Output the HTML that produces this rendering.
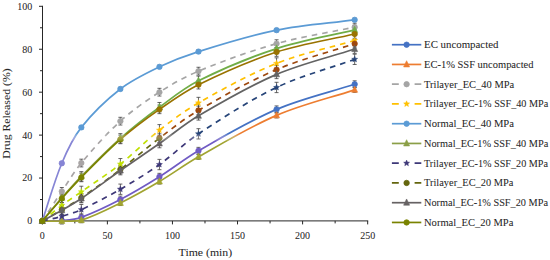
<!DOCTYPE html>
<html><head><meta charset="utf-8"><style>
html,body{margin:0;padding:0;background:#fff;}
body{width:550px;height:260px;overflow:hidden;}
svg{display:block;}

text{font-family:"Liberation Serif", serif;fill:#262626;stroke:#262626;stroke-width:0.05px;}
</style></head><body><div id="wrap">
<svg width="550" height="260" viewBox="0 0 550 260">
<rect width="550" height="260" fill="#fff"/>

<g stroke="#262626" stroke-width="1" fill="none">
<line x1="42.5" y1="5.8" x2="42.5" y2="220.9"/>
<line x1="42.5" y1="220.9" x2="368.2" y2="220.9"/>
<line x1="39.0" y1="221.00" x2="42.5" y2="221.00"/>
<line x1="40.0" y1="199.53" x2="42.5" y2="199.53"/>
<line x1="39.0" y1="178.06" x2="42.5" y2="178.06"/>
<line x1="40.0" y1="156.59" x2="42.5" y2="156.59"/>
<line x1="39.0" y1="135.12" x2="42.5" y2="135.12"/>
<line x1="40.0" y1="113.65" x2="42.5" y2="113.65"/>
<line x1="39.0" y1="92.18" x2="42.5" y2="92.18"/>
<line x1="40.0" y1="70.71" x2="42.5" y2="70.71"/>
<line x1="39.0" y1="49.24" x2="42.5" y2="49.24"/>
<line x1="40.0" y1="27.77" x2="42.5" y2="27.77"/>
<line x1="39.0" y1="6.30" x2="42.5" y2="6.30"/>
<line x1="42.30" y1="220.9" x2="42.30" y2="224.4"/>
<line x1="74.84" y1="220.9" x2="74.84" y2="223.4"/>
<line x1="107.38" y1="220.9" x2="107.38" y2="224.4"/>
<line x1="139.91" y1="220.9" x2="139.91" y2="223.4"/>
<line x1="172.45" y1="220.9" x2="172.45" y2="224.4"/>
<line x1="204.99" y1="220.9" x2="204.99" y2="223.4"/>
<line x1="237.53" y1="220.9" x2="237.53" y2="224.4"/>
<line x1="270.06" y1="220.9" x2="270.06" y2="223.4"/>
<line x1="302.60" y1="220.9" x2="302.60" y2="224.4"/>
<line x1="335.14" y1="220.9" x2="335.14" y2="223.4"/>
<line x1="367.68" y1="220.9" x2="367.68" y2="224.4"/>
</g>
<g font-size="10" text-anchor="end">
<text x="32.2" y="224.40">0</text>
<text x="32.2" y="181.46">20</text>
<text x="32.2" y="138.52">40</text>
<text x="32.2" y="95.58">60</text>
<text x="32.2" y="52.64">80</text>
<text x="32.2" y="9.70">100</text>
</g>
<g font-size="10" text-anchor="middle">
<text x="42.30" y="239.0">0</text>
<text x="107.38" y="239.0">50</text>
<text x="172.45" y="239.0">100</text>
<text x="237.53" y="239.0">150</text>
<text x="302.60" y="239.0">200</text>
<text x="367.68" y="239.0">250</text>
</g>
<text x="178.6" y="256.2" font-size="11.2" textLength="53.6" lengthAdjust="spacingAndGlyphs">Time (min)</text>
<text transform="translate(10.4,158.7) rotate(-90)" font-size="10.8" textLength="90.4" lengthAdjust="spacingAndGlyphs">Drug Released (%)</text>
<defs><linearGradient id="ga" gradientUnits="userSpaceOnUse" x1="0" y1="133.5" x2="0" y2="141.5"><stop offset="0" stop-color="#fff"/><stop offset="1" stop-color="#000"/></linearGradient><linearGradient id="gb" gradientUnits="userSpaceOnUse" x1="0" y1="133.5" x2="0" y2="141.5"><stop offset="0" stop-color="#000"/><stop offset="1" stop-color="#fff"/></linearGradient><mask id="ma" maskUnits="userSpaceOnUse" x="0" y="0" width="550" height="260"><rect width="550" height="260" fill="url(#ga)"/></mask><mask id="mb" maskUnits="userSpaceOnUse" x="0" y="0" width="550" height="260"><rect width="550" height="260" fill="url(#gb)"/></mask></defs>
<g mask="url(#ma)">
<path d="M61.82 217.14V224.01M59.82 217.14H63.82M59.82 224.01H63.82M81.34 213.91V220.79M79.34 213.91H83.34M79.34 220.79H83.34M120.39 196.09V202.97M118.39 196.09H122.39M118.39 202.97H122.39M159.44 173.34V180.21M157.44 173.34H161.44M157.44 180.21H161.44M198.48 147.36V154.23M196.48 147.36H200.48M196.48 154.23H200.48M276.57 105.92V112.79M274.57 105.92H278.57M274.57 112.79H278.57M354.66 80.80V87.67M352.66 80.80H356.66M352.66 87.67H356.66" stroke="#404040" stroke-width="0.8" fill="none"/>
<path d="M81.34 217.56V222.72M79.34 217.56H83.34M79.34 222.72H83.34M120.39 200.39V205.54M118.39 200.39H122.39M118.39 205.54H122.39M159.44 178.92V184.07M157.44 178.92H161.44M157.44 184.07H161.44M198.48 154.23V159.38M196.48 154.23H200.48M196.48 159.38H200.48M276.57 112.79V117.94M274.57 112.79H278.57M274.57 117.94H278.57M354.66 87.24V92.39M352.66 87.24H356.66M352.66 92.39H356.66" stroke="#404040" stroke-width="0.8" fill="none"/>
<path d="M61.82 187.51V195.24M59.82 187.51H63.82M59.82 195.24H63.82M81.34 159.17V166.90M79.34 159.17H83.34M79.34 166.90H83.34M120.39 117.30V125.03M118.39 117.30H122.39M118.39 125.03H122.39M159.44 88.32V96.04M157.44 88.32H161.44M157.44 96.04H161.44M198.48 67.27V75.00M196.48 67.27H200.48M196.48 75.00H200.48M276.57 39.79V47.52M274.57 39.79H278.57M274.57 47.52H278.57M354.66 23.26V30.99M352.66 23.26H356.66M352.66 30.99H356.66" stroke="#404040" stroke-width="0.8" fill="none"/>
<path d="M61.82 199.74V210.91M59.82 199.74H63.82M59.82 210.91H63.82M81.34 186.22V197.38M79.34 186.22H83.34M79.34 197.38H83.34M120.39 158.52V169.69M118.39 158.52H122.39M118.39 169.69H122.39M159.44 124.60V135.76M157.44 124.60H161.44M157.44 135.76H161.44M198.48 97.33V108.50M196.48 97.33H200.48M196.48 108.50H200.48M276.57 57.83V68.99M274.57 57.83H278.57M274.57 68.99H278.57M354.66 34.86V46.02M352.66 34.86H356.66M352.66 46.02H356.66" stroke="#404040" stroke-width="0.8" fill="none"/>
<path d="M61.82 161.53V164.96M59.82 161.53H63.82M59.82 164.96H63.82M81.34 125.67V129.11M79.34 125.67H83.34M79.34 129.11H83.34M120.39 87.24V90.68M118.39 87.24H122.39M118.39 90.68H122.39M159.44 65.13V68.56M157.44 65.13H161.44M157.44 68.56H161.44M198.48 49.88V53.32M196.48 49.88H200.48M196.48 53.32H200.48M276.57 28.41V31.85M274.57 28.41H278.57M274.57 31.85H278.57M354.66 18.11V21.54M352.66 18.11H356.66M352.66 21.54H356.66" stroke="#404040" stroke-width="0.8" fill="none"/>
<path d="M61.82 193.09V202.54M59.82 193.09H63.82M59.82 202.54H63.82M81.34 171.62V181.07M79.34 171.62H83.34M79.34 181.07H83.34M120.39 133.62V143.06M118.39 133.62H122.39M118.39 143.06H122.39M159.44 102.49V111.93M157.44 102.49H161.44M157.44 111.93H161.44M198.48 76.08V85.52M196.48 76.08H200.48M196.48 85.52H200.48M276.57 43.87V53.32M274.57 43.87H278.57M274.57 53.32H278.57M354.66 25.19V34.64M352.66 25.19H356.66M352.66 34.64H356.66" stroke="#404040" stroke-width="0.8" fill="none"/>
<path d="M61.82 211.12V221.43M59.82 211.12H63.82M59.82 221.43H63.82M81.34 204.47V214.77M79.34 204.47H83.34M79.34 214.77H83.34M120.39 184.07V194.38M118.39 184.07H122.39M118.39 194.38H122.39M159.44 159.38V169.69M157.44 159.38H161.44M157.44 169.69H161.44M198.48 128.68V138.98M196.48 128.68H200.48M196.48 138.98H200.48M276.57 82.30V92.61M274.57 82.30H278.57M274.57 92.61H278.57M354.66 54.18V64.48M352.66 54.18H356.66M352.66 64.48H356.66" stroke="#404040" stroke-width="0.8" fill="none"/>
<path d="M61.82 205.54V214.13M59.82 205.54H63.82M59.82 214.13H63.82M81.34 193.52V202.11M79.34 193.52H83.34M79.34 202.11H83.34M120.39 165.18V173.77M118.39 165.18H122.39M118.39 173.77H122.39M159.44 133.83V142.42M157.44 133.83H161.44M157.44 142.42H161.44M198.48 106.14V114.72M196.48 106.14H200.48M196.48 114.72H200.48M276.57 65.34V73.93M274.57 65.34H278.57M274.57 73.93H278.57M354.66 39.36V47.95M352.66 39.36H356.66M352.66 47.95H356.66" stroke="#404040" stroke-width="0.8" fill="none"/>
<path d="M61.82 205.97V214.56M59.82 205.97H63.82M59.82 214.56H63.82M81.34 194.16V202.75M79.34 194.16H83.34M79.34 202.75H83.34M120.39 166.25V174.84M118.39 166.25H122.39M118.39 174.84H122.39M159.44 139.20V147.79M157.44 139.20H161.44M157.44 147.79H161.44M198.48 111.50V120.09M196.48 111.50H200.48M196.48 120.09H200.48M276.57 70.07V78.65M274.57 70.07H278.57M274.57 78.65H278.57M354.66 44.73V53.32M352.66 44.73H356.66M352.66 53.32H356.66" stroke="#404040" stroke-width="0.8" fill="none"/>
<path d="M61.82 194.16V202.75M59.82 194.16H63.82M59.82 202.75H63.82M81.34 173.12V181.71M79.34 173.12H83.34M79.34 181.71H83.34M120.39 135.12V143.71M118.39 135.12H122.39M118.39 143.71H122.39M159.44 105.06V113.65M157.44 105.06H161.44M157.44 113.65H161.44M198.48 80.37V88.96M196.48 80.37H200.48M196.48 88.96H200.48M276.57 47.74V56.33M274.57 47.74H278.57M274.57 56.33H278.57M354.66 29.70V38.29M352.66 29.70H356.66M352.66 38.29H356.66" stroke="#404040" stroke-width="0.8" fill="none"/>
<path d="M42.30 221.00 C48.81 220.86 55.34 221.18 61.82 220.57 C68.39 219.96 75.14 219.58 81.34 217.35 C94.81 212.51 107.70 206.13 120.39 199.53 C133.76 192.58 146.66 184.75 159.44 176.77 C172.70 168.50 184.93 158.59 198.48 150.79 C224.02 136.09 249.46 120.91 276.57 109.36 C301.72 98.64 328.63 92.61 354.66 84.24" stroke="#4472C4" stroke-width="1.7" fill="none"/>
<circle cx="42.30" cy="221.00" r="2.70" fill="#4472C4" stroke="#4472C4" stroke-width="0.8"/>
<circle cx="61.82" cy="220.57" r="2.70" fill="#4472C4" stroke="#4472C4" stroke-width="0.8"/>
<circle cx="81.34" cy="217.35" r="2.70" fill="#4472C4" stroke="#4472C4" stroke-width="0.8"/>
<circle cx="120.39" cy="199.53" r="2.70" fill="#4472C4" stroke="#4472C4" stroke-width="0.8"/>
<circle cx="159.44" cy="176.77" r="2.70" fill="#4472C4" stroke="#4472C4" stroke-width="0.8"/>
<circle cx="198.48" cy="150.79" r="2.70" fill="#4472C4" stroke="#4472C4" stroke-width="0.8"/>
<circle cx="276.57" cy="109.36" r="2.70" fill="#4472C4" stroke="#4472C4" stroke-width="0.8"/>
<circle cx="354.66" cy="84.24" r="2.70" fill="#4472C4" stroke="#4472C4" stroke-width="0.8"/>
<path d="M42.30 221.00 C48.81 221.00 55.32 221.14 61.82 221.00 C68.33 220.86 75.12 222.06 81.34 220.14 C94.93 215.96 107.65 209.27 120.39 202.97 C133.70 196.38 146.65 189.05 159.44 181.50 C172.69 173.66 185.07 164.37 198.48 156.80 C224.14 142.32 249.49 126.98 276.57 115.37 C301.74 104.57 328.63 98.33 354.66 89.82" stroke="#ED7D31" stroke-width="1.7" fill="none"/>
<path d="M42.30 217.27L45.27 223.48L39.33 223.48Z" fill="#ED7D31" stroke="#ED7D31" stroke-width="0.6"/>
<path d="M61.82 217.27L64.79 223.48L58.85 223.48Z" fill="#ED7D31" stroke="#ED7D31" stroke-width="0.6"/>
<path d="M81.34 216.42L84.31 222.63L78.38 222.63Z" fill="#ED7D31" stroke="#ED7D31" stroke-width="0.6"/>
<path d="M120.39 199.24L123.36 205.45L117.42 205.45Z" fill="#ED7D31" stroke="#ED7D31" stroke-width="0.6"/>
<path d="M159.44 177.77L162.41 183.98L156.47 183.98Z" fill="#ED7D31" stroke="#ED7D31" stroke-width="0.6"/>
<path d="M198.48 153.08L201.45 159.29L195.51 159.29Z" fill="#ED7D31" stroke="#ED7D31" stroke-width="0.6"/>
<path d="M276.57 111.64L279.54 117.85L273.60 117.85Z" fill="#ED7D31" stroke="#ED7D31" stroke-width="0.6"/>
<path d="M354.66 86.09L357.63 92.30L351.69 92.30Z" fill="#ED7D31" stroke="#ED7D31" stroke-width="0.6"/>
<path d="M42.30 221.00 C48.81 211.12 55.22 201.18 61.82 191.37 C68.23 181.86 74.00 171.84 81.34 163.03 C93.57 148.38 106.26 133.99 120.39 121.16 C132.39 110.27 145.79 100.92 159.44 92.18 C171.88 84.21 184.82 76.80 198.48 71.14 C223.97 60.58 250.01 51.14 276.57 43.66 C302.18 36.44 328.63 32.64 354.66 27.13" stroke="#A5A5A5" stroke-width="1.7" fill="none" stroke-dasharray="5.6 5"/>
<circle cx="42.30" cy="221.00" r="2.70" fill="#A5A5A5" stroke="#A5A5A5" stroke-width="0.8"/>
<circle cx="61.82" cy="191.37" r="2.70" fill="#A5A5A5" stroke="#A5A5A5" stroke-width="0.8"/>
<circle cx="81.34" cy="163.03" r="2.70" fill="#A5A5A5" stroke="#A5A5A5" stroke-width="0.8"/>
<circle cx="120.39" cy="121.16" r="2.70" fill="#A5A5A5" stroke="#A5A5A5" stroke-width="0.8"/>
<circle cx="159.44" cy="92.18" r="2.70" fill="#A5A5A5" stroke="#A5A5A5" stroke-width="0.8"/>
<circle cx="198.48" cy="71.14" r="2.70" fill="#A5A5A5" stroke="#A5A5A5" stroke-width="0.8"/>
<circle cx="276.57" cy="43.66" r="2.70" fill="#A5A5A5" stroke="#A5A5A5" stroke-width="0.8"/>
<circle cx="354.66" cy="27.13" r="2.70" fill="#A5A5A5" stroke="#A5A5A5" stroke-width="0.8"/>
<path d="M42.30 221.00 C48.81 215.78 55.14 210.32 61.82 205.33 C68.16 200.59 74.87 196.36 81.34 191.80 C94.39 182.62 107.86 173.99 120.39 164.10 C133.92 153.42 145.86 140.82 159.44 130.18 C171.93 120.39 184.69 110.78 198.48 102.92 C223.82 88.47 249.49 74.24 276.57 63.41 C301.76 53.33 328.63 48.09 354.66 40.44" stroke="#FFC000" stroke-width="1.7" fill="none" stroke-dasharray="5.6 5"/>
<path d="M42.30 217.90L43.12 219.87L45.25 220.04L43.63 221.43L44.13 223.51L42.30 222.40L40.47 223.51L40.97 221.43L39.35 220.04L41.48 219.87Z" fill="#FFC000" stroke="#FFC000" stroke-width="0.5"/>
<path d="M61.82 202.22L62.64 204.20L64.78 204.37L63.15 205.76L63.65 207.84L61.82 206.72L60.00 207.84L60.49 205.76L58.87 204.37L61.00 204.20Z" fill="#FFC000" stroke="#FFC000" stroke-width="0.5"/>
<path d="M81.34 188.70L82.17 190.67L84.30 190.84L82.67 192.23L83.17 194.31L81.34 193.20L79.52 194.31L80.02 192.23L78.39 190.84L80.52 190.67Z" fill="#FFC000" stroke="#FFC000" stroke-width="0.5"/>
<path d="M120.39 161.00L121.21 162.97L123.34 163.15L121.72 164.54L122.22 166.62L120.39 165.50L118.56 166.62L119.06 164.54L117.44 163.15L119.57 162.97Z" fill="#FFC000" stroke="#FFC000" stroke-width="0.5"/>
<path d="M159.44 127.08L160.26 129.05L162.39 129.22L160.76 130.61L161.26 132.69L159.44 131.58L157.61 132.69L158.11 130.61L156.48 129.22L158.61 129.05Z" fill="#FFC000" stroke="#FFC000" stroke-width="0.5"/>
<path d="M198.48 99.81L199.30 101.78L201.43 101.96L199.81 103.35L200.31 105.43L198.48 104.31L196.65 105.43L197.15 103.35L195.53 101.96L197.66 101.78Z" fill="#FFC000" stroke="#FFC000" stroke-width="0.5"/>
<path d="M276.57 60.31L277.39 62.28L279.52 62.45L277.90 63.84L278.40 65.92L276.57 64.81L274.74 65.92L275.24 63.84L273.62 62.45L275.75 62.28Z" fill="#FFC000" stroke="#FFC000" stroke-width="0.5"/>
<path d="M354.66 37.33L355.48 39.31L357.61 39.48L355.99 40.87L356.49 42.95L354.66 41.83L352.83 42.95L353.33 40.87L351.71 39.48L353.84 39.31Z" fill="#FFC000" stroke="#FFC000" stroke-width="0.5"/>
<path d="M42.30 221.00 C48.81 201.75 54.00 182.00 61.82 163.25 C67.06 150.69 72.92 138.08 81.34 127.39 C92.65 113.05 105.96 100.15 120.39 88.96 C132.21 79.79 145.94 73.30 159.44 66.85 C172.04 60.82 185.15 55.78 198.48 51.60 C224.24 43.53 250.12 35.51 276.57 30.13 C302.30 24.90 328.63 23.26 354.66 19.83" stroke="#5B9BD5" stroke-width="1.7" fill="none"/>
<circle cx="42.30" cy="221.00" r="2.70" fill="#5B9BD5" stroke="#5B9BD5" stroke-width="0.8"/>
<circle cx="61.82" cy="163.25" r="2.70" fill="#5B9BD5" stroke="#5B9BD5" stroke-width="0.8"/>
<circle cx="81.34" cy="127.39" r="2.70" fill="#5B9BD5" stroke="#5B9BD5" stroke-width="0.8"/>
<circle cx="120.39" cy="88.96" r="2.70" fill="#5B9BD5" stroke="#5B9BD5" stroke-width="0.8"/>
<circle cx="159.44" cy="66.85" r="2.70" fill="#5B9BD5" stroke="#5B9BD5" stroke-width="0.8"/>
<circle cx="198.48" cy="51.60" r="2.70" fill="#5B9BD5" stroke="#5B9BD5" stroke-width="0.8"/>
<circle cx="276.57" cy="30.13" r="2.70" fill="#5B9BD5" stroke="#5B9BD5" stroke-width="0.8"/>
<circle cx="354.66" cy="19.83" r="2.70" fill="#5B9BD5" stroke="#5B9BD5" stroke-width="0.8"/>
<path d="M42.30 221.00 C48.81 213.27 55.17 205.42 61.82 197.81 C68.19 190.53 74.56 183.23 81.34 176.34 C94.09 163.40 106.79 150.38 120.39 138.34 C132.85 127.31 146.03 117.08 159.44 107.21 C172.08 97.89 184.43 87.83 198.48 80.80 C223.66 68.20 249.80 57.32 276.57 48.60 C302.02 40.30 328.63 36.14 354.66 29.92" stroke="#70AD47" stroke-width="1.7" fill="none"/>
<path d="M42.30 217.27L45.27 223.48L39.33 223.48Z" fill="#70AD47" stroke="#70AD47" stroke-width="0.6"/>
<path d="M61.82 194.09L64.79 200.30L58.85 200.30Z" fill="#70AD47" stroke="#70AD47" stroke-width="0.6"/>
<path d="M81.34 172.62L84.31 178.83L78.38 178.83Z" fill="#70AD47" stroke="#70AD47" stroke-width="0.6"/>
<path d="M120.39 134.61L123.36 140.82L117.42 140.82Z" fill="#70AD47" stroke="#70AD47" stroke-width="0.6"/>
<path d="M159.44 103.48L162.41 109.69L156.47 109.69Z" fill="#70AD47" stroke="#70AD47" stroke-width="0.6"/>
<path d="M198.48 77.07L201.45 83.28L195.51 83.28Z" fill="#70AD47" stroke="#70AD47" stroke-width="0.6"/>
<path d="M276.57 44.87L279.54 51.08L273.60 51.08Z" fill="#70AD47" stroke="#70AD47" stroke-width="0.6"/>
<path d="M354.66 26.19L357.63 32.40L351.69 32.40Z" fill="#70AD47" stroke="#70AD47" stroke-width="0.6"/>
<path d="M42.30 221.00 C48.81 219.43 55.39 218.15 61.82 216.28 C68.42 214.35 75.10 212.50 81.34 209.62 C94.68 203.46 107.67 196.57 120.39 189.22 C133.73 181.52 146.88 173.44 159.44 164.53 C172.94 154.95 184.65 142.93 198.48 133.83 C223.77 117.19 249.25 100.49 276.57 87.46 C301.54 75.54 328.63 68.71 354.66 59.33" stroke="#264478" stroke-width="1.7" fill="none" stroke-dasharray="5.6 5"/>
<path d="M42.30 217.90L43.12 219.87L45.25 220.04L43.63 221.43L44.13 223.51L42.30 222.40L40.47 223.51L40.97 221.43L39.35 220.04L41.48 219.87Z" fill="#264478" stroke="#264478" stroke-width="0.5"/>
<path d="M61.82 213.17L62.64 215.15L64.78 215.32L63.15 216.71L63.65 218.79L61.82 217.67L60.00 218.79L60.49 216.71L58.87 215.32L61.00 215.15Z" fill="#264478" stroke="#264478" stroke-width="0.5"/>
<path d="M81.34 206.52L82.17 208.49L84.30 208.66L82.67 210.05L83.17 212.13L81.34 211.02L79.52 212.13L80.02 210.05L78.39 208.66L80.52 208.49Z" fill="#264478" stroke="#264478" stroke-width="0.5"/>
<path d="M120.39 186.12L121.21 188.09L123.34 188.26L121.72 189.66L122.22 191.74L120.39 190.62L118.56 191.74L119.06 189.66L117.44 188.26L119.57 188.09Z" fill="#264478" stroke="#264478" stroke-width="0.5"/>
<path d="M159.44 161.43L160.26 163.40L162.39 163.57L160.76 164.97L161.26 167.05L159.44 165.93L157.61 167.05L158.11 164.97L156.48 163.57L158.61 163.40Z" fill="#264478" stroke="#264478" stroke-width="0.5"/>
<path d="M198.48 130.73L199.30 132.70L201.43 132.87L199.81 134.26L200.31 136.34L198.48 135.23L196.65 136.34L197.15 134.26L195.53 132.87L197.66 132.70Z" fill="#264478" stroke="#264478" stroke-width="0.5"/>
<path d="M276.57 84.35L277.39 86.33L279.52 86.50L277.90 87.89L278.40 89.97L276.57 88.85L274.74 89.97L275.24 87.89L273.62 86.50L275.75 86.33Z" fill="#264478" stroke="#264478" stroke-width="0.5"/>
<path d="M354.66 56.23L355.48 58.20L357.61 58.37L355.99 59.76L356.49 61.84L354.66 60.73L352.83 61.84L353.33 59.76L351.71 58.37L353.84 58.20Z" fill="#264478" stroke="#264478" stroke-width="0.5"/>
<path d="M42.30 221.00 C48.81 217.28 55.38 213.66 61.82 209.84 C68.39 205.93 75.05 202.15 81.34 197.81 C94.59 188.69 107.61 179.24 120.39 169.47 C133.65 159.34 146.12 148.19 159.44 138.13 C172.16 128.50 184.71 118.48 198.48 110.43 C223.83 95.61 249.57 81.18 276.57 69.64 C301.79 58.85 328.63 52.32 354.66 43.66" stroke="#9E480E" stroke-width="1.7" fill="none" stroke-dasharray="5.6 5"/>
<circle cx="42.30" cy="221.00" r="2.70" fill="#9E480E" stroke="#9E480E" stroke-width="0.8"/>
<circle cx="61.82" cy="209.84" r="2.70" fill="#9E480E" stroke="#9E480E" stroke-width="0.8"/>
<circle cx="81.34" cy="197.81" r="2.70" fill="#9E480E" stroke="#9E480E" stroke-width="0.8"/>
<circle cx="120.39" cy="169.47" r="2.70" fill="#9E480E" stroke="#9E480E" stroke-width="0.8"/>
<circle cx="159.44" cy="138.13" r="2.70" fill="#9E480E" stroke="#9E480E" stroke-width="0.8"/>
<circle cx="198.48" cy="110.43" r="2.70" fill="#9E480E" stroke="#9E480E" stroke-width="0.8"/>
<circle cx="276.57" cy="69.64" r="2.70" fill="#9E480E" stroke="#9E480E" stroke-width="0.8"/>
<circle cx="354.66" cy="43.66" r="2.70" fill="#9E480E" stroke="#9E480E" stroke-width="0.8"/>
<path d="M42.30 221.00 C48.81 217.42 55.39 213.98 61.82 210.26 C68.41 206.46 75.05 202.73 81.34 198.46 C94.59 189.48 107.31 179.75 120.39 170.55 C133.34 161.43 146.47 152.58 159.44 143.49 C172.50 134.33 184.74 123.91 198.48 115.80 C223.86 100.82 249.47 85.94 276.57 74.36 C301.73 63.60 328.63 57.47 354.66 49.03" stroke="#636363" stroke-width="1.7" fill="none"/>
<path d="M42.30 217.27L45.27 223.48L39.33 223.48Z" fill="#636363" stroke="#636363" stroke-width="0.6"/>
<path d="M61.82 206.54L64.79 212.75L58.85 212.75Z" fill="#636363" stroke="#636363" stroke-width="0.6"/>
<path d="M81.34 194.73L84.31 200.94L78.38 200.94Z" fill="#636363" stroke="#636363" stroke-width="0.6"/>
<path d="M120.39 166.82L123.36 173.03L117.42 173.03Z" fill="#636363" stroke="#636363" stroke-width="0.6"/>
<path d="M159.44 139.77L162.41 145.98L156.47 145.98Z" fill="#636363" stroke="#636363" stroke-width="0.6"/>
<path d="M198.48 112.07L201.45 118.28L195.51 118.28Z" fill="#636363" stroke="#636363" stroke-width="0.6"/>
<path d="M276.57 70.63L279.54 76.84L273.60 76.84Z" fill="#636363" stroke="#636363" stroke-width="0.6"/>
<path d="M354.66 45.30L357.63 51.51L351.69 51.51Z" fill="#636363" stroke="#636363" stroke-width="0.6"/>
<path d="M42.30 221.00 C48.81 213.49 55.19 205.86 61.82 198.46 C68.21 191.33 74.61 184.21 81.34 177.42 C94.14 164.52 106.70 151.35 120.39 139.41 C132.77 128.62 145.99 118.78 159.44 109.36 C172.04 100.52 184.65 91.43 198.48 84.67 C223.82 72.26 249.74 60.74 276.57 52.03 C301.98 43.79 328.63 40.01 354.66 34.00" stroke="#997300" stroke-width="1.7" fill="none"/>
<circle cx="42.30" cy="221.00" r="2.70" fill="#997300" stroke="#997300" stroke-width="0.8"/>
<circle cx="61.82" cy="198.46" r="2.70" fill="#997300" stroke="#997300" stroke-width="0.8"/>
<circle cx="81.34" cy="177.42" r="2.70" fill="#997300" stroke="#997300" stroke-width="0.8"/>
<circle cx="120.39" cy="139.41" r="2.70" fill="#997300" stroke="#997300" stroke-width="0.8"/>
<circle cx="159.44" cy="109.36" r="2.70" fill="#997300" stroke="#997300" stroke-width="0.8"/>
<circle cx="198.48" cy="84.67" r="2.70" fill="#997300" stroke="#997300" stroke-width="0.8"/>
<circle cx="276.57" cy="52.03" r="2.70" fill="#997300" stroke="#997300" stroke-width="0.8"/>
<circle cx="354.66" cy="34.00" r="2.70" fill="#997300" stroke="#997300" stroke-width="0.8"/>
</g><g mask="url(#mb)">
<path d="M61.82 217.14V224.01M59.82 217.14H63.82M59.82 224.01H63.82M81.34 213.91V220.79M79.34 213.91H83.34M79.34 220.79H83.34M120.39 196.09V202.97M118.39 196.09H122.39M118.39 202.97H122.39M159.44 173.34V180.21M157.44 173.34H161.44M157.44 180.21H161.44M198.48 147.36V154.23M196.48 147.36H200.48M196.48 154.23H200.48M276.57 105.92V112.79M274.57 105.92H278.57M274.57 112.79H278.57M354.66 80.80V87.67M352.66 80.80H356.66M352.66 87.67H356.66" stroke="#433F40" stroke-width="0.8" fill="none"/>
<path d="M81.34 217.56V222.72M79.34 217.56H83.34M79.34 222.72H83.34M120.39 200.39V205.54M118.39 200.39H122.39M118.39 205.54H122.39M159.44 178.92V184.07M157.44 178.92H161.44M157.44 184.07H161.44M198.48 154.23V159.38M196.48 154.23H200.48M196.48 159.38H200.48M276.57 112.79V117.94M274.57 112.79H278.57M274.57 117.94H278.57M354.66 87.24V92.39M352.66 87.24H356.66M352.66 92.39H356.66" stroke="#433F40" stroke-width="0.8" fill="none"/>
<path d="M61.82 187.51V195.24M59.82 187.51H63.82M59.82 195.24H63.82M81.34 159.17V166.90M79.34 159.17H83.34M79.34 166.90H83.34M120.39 117.30V125.03M118.39 117.30H122.39M118.39 125.03H122.39M159.44 88.32V96.04M157.44 88.32H161.44M157.44 96.04H161.44M198.48 67.27V75.00M196.48 67.27H200.48M196.48 75.00H200.48M276.57 39.79V47.52M274.57 39.79H278.57M274.57 47.52H278.57M354.66 23.26V30.99M352.66 23.26H356.66M352.66 30.99H356.66" stroke="#433F40" stroke-width="0.8" fill="none"/>
<path d="M61.82 199.74V210.91M59.82 199.74H63.82M59.82 210.91H63.82M81.34 186.22V197.38M79.34 186.22H83.34M79.34 197.38H83.34M120.39 158.52V169.69M118.39 158.52H122.39M118.39 169.69H122.39M159.44 124.60V135.76M157.44 124.60H161.44M157.44 135.76H161.44M198.48 97.33V108.50M196.48 97.33H200.48M196.48 108.50H200.48M276.57 57.83V68.99M274.57 57.83H278.57M274.57 68.99H278.57M354.66 34.86V46.02M352.66 34.86H356.66M352.66 46.02H356.66" stroke="#433F40" stroke-width="0.8" fill="none"/>
<path d="M61.82 161.53V164.96M59.82 161.53H63.82M59.82 164.96H63.82M81.34 125.67V129.11M79.34 125.67H83.34M79.34 129.11H83.34M120.39 87.24V90.68M118.39 87.24H122.39M118.39 90.68H122.39M159.44 65.13V68.56M157.44 65.13H161.44M157.44 68.56H161.44M198.48 49.88V53.32M196.48 49.88H200.48M196.48 53.32H200.48M276.57 28.41V31.85M274.57 28.41H278.57M274.57 31.85H278.57M354.66 18.11V21.54M352.66 18.11H356.66M352.66 21.54H356.66" stroke="#433F40" stroke-width="0.8" fill="none"/>
<path d="M61.82 193.09V202.54M59.82 193.09H63.82M59.82 202.54H63.82M81.34 171.62V181.07M79.34 171.62H83.34M79.34 181.07H83.34M120.39 133.62V143.06M118.39 133.62H122.39M118.39 143.06H122.39M159.44 102.49V111.93M157.44 102.49H161.44M157.44 111.93H161.44M198.48 76.08V85.52M196.48 76.08H200.48M196.48 85.52H200.48M276.57 43.87V53.32M274.57 43.87H278.57M274.57 53.32H278.57M354.66 25.19V34.64M352.66 25.19H356.66M352.66 34.64H356.66" stroke="#433F40" stroke-width="0.8" fill="none"/>
<path d="M61.82 211.12V221.43M59.82 211.12H63.82M59.82 221.43H63.82M81.34 204.47V214.77M79.34 204.47H83.34M79.34 214.77H83.34M120.39 184.07V194.38M118.39 184.07H122.39M118.39 194.38H122.39M159.44 159.38V169.69M157.44 159.38H161.44M157.44 169.69H161.44M198.48 128.68V138.98M196.48 128.68H200.48M196.48 138.98H200.48M276.57 82.30V92.61M274.57 82.30H278.57M274.57 92.61H278.57M354.66 54.18V64.48M352.66 54.18H356.66M352.66 64.48H356.66" stroke="#433F40" stroke-width="0.8" fill="none"/>
<path d="M61.82 205.54V214.13M59.82 205.54H63.82M59.82 214.13H63.82M81.34 193.52V202.11M79.34 193.52H83.34M79.34 202.11H83.34M120.39 165.18V173.77M118.39 165.18H122.39M118.39 173.77H122.39M159.44 133.83V142.42M157.44 133.83H161.44M157.44 142.42H161.44M198.48 106.14V114.72M196.48 106.14H200.48M196.48 114.72H200.48M276.57 65.34V73.93M274.57 65.34H278.57M274.57 73.93H278.57M354.66 39.36V47.95M352.66 39.36H356.66M352.66 47.95H356.66" stroke="#433F40" stroke-width="0.8" fill="none"/>
<path d="M61.82 205.97V214.56M59.82 205.97H63.82M59.82 214.56H63.82M81.34 194.16V202.75M79.34 194.16H83.34M79.34 202.75H83.34M120.39 166.25V174.84M118.39 166.25H122.39M118.39 174.84H122.39M159.44 139.20V147.79M157.44 139.20H161.44M157.44 147.79H161.44M198.48 111.50V120.09M196.48 111.50H200.48M196.48 120.09H200.48M276.57 70.07V78.65M274.57 70.07H278.57M274.57 78.65H278.57M354.66 44.73V53.32M352.66 44.73H356.66M352.66 53.32H356.66" stroke="#433F40" stroke-width="0.8" fill="none"/>
<path d="M61.82 194.16V202.75M59.82 194.16H63.82M59.82 202.75H63.82M81.34 173.12V181.71M79.34 173.12H83.34M79.34 181.71H83.34M120.39 135.12V143.71M118.39 135.12H122.39M118.39 143.71H122.39M159.44 105.06V113.65M157.44 105.06H161.44M157.44 113.65H161.44M198.48 80.37V88.96M196.48 80.37H200.48M196.48 88.96H200.48M276.57 47.74V56.33M274.57 47.74H278.57M274.57 56.33H278.57M354.66 29.70V38.29M352.66 29.70H356.66M352.66 38.29H356.66" stroke="#433F40" stroke-width="0.8" fill="none"/>
<path d="M42.30 221.00 C48.81 220.86 55.34 221.18 61.82 220.57 C68.39 219.96 75.14 219.58 81.34 217.35 C94.81 212.51 107.70 206.13 120.39 199.53 C133.76 192.58 146.66 184.75 159.44 176.77 C172.70 168.50 184.93 158.59 198.48 150.79 C224.02 136.09 249.46 120.91 276.57 109.36 C301.72 98.64 328.63 92.61 354.66 84.24" stroke="#705BC4" stroke-width="1.7" fill="none"/>
<circle cx="42.30" cy="221.00" r="2.70" fill="#705BC4" stroke="#705BC4" stroke-width="0.8"/>
<circle cx="61.82" cy="220.57" r="2.70" fill="#705BC4" stroke="#705BC4" stroke-width="0.8"/>
<circle cx="81.34" cy="217.35" r="2.70" fill="#705BC4" stroke="#705BC4" stroke-width="0.8"/>
<circle cx="120.39" cy="199.53" r="2.70" fill="#705BC4" stroke="#705BC4" stroke-width="0.8"/>
<circle cx="159.44" cy="176.77" r="2.70" fill="#705BC4" stroke="#705BC4" stroke-width="0.8"/>
<circle cx="198.48" cy="150.79" r="2.70" fill="#705BC4" stroke="#705BC4" stroke-width="0.8"/>
<circle cx="276.57" cy="109.36" r="2.70" fill="#705BC4" stroke="#705BC4" stroke-width="0.8"/>
<circle cx="354.66" cy="84.24" r="2.70" fill="#705BC4" stroke="#705BC4" stroke-width="0.8"/>
<path d="M42.30 221.00 C48.81 221.00 55.32 221.14 61.82 221.00 C68.33 220.86 75.12 222.06 81.34 220.14 C94.93 215.96 107.65 209.27 120.39 202.97 C133.70 196.38 146.65 189.05 159.44 181.50 C172.69 173.66 185.07 164.37 198.48 156.80 C224.14 142.32 249.49 126.98 276.57 115.37 C301.74 104.57 328.63 98.33 354.66 89.82" stroke="#A1A431" stroke-width="1.7" fill="none"/>
<path d="M42.30 217.27L45.27 223.48L39.33 223.48Z" fill="#A1A431" stroke="#A1A431" stroke-width="0.6"/>
<path d="M61.82 217.27L64.79 223.48L58.85 223.48Z" fill="#A1A431" stroke="#A1A431" stroke-width="0.6"/>
<path d="M81.34 216.42L84.31 222.63L78.38 222.63Z" fill="#A1A431" stroke="#A1A431" stroke-width="0.6"/>
<path d="M120.39 199.24L123.36 205.45L117.42 205.45Z" fill="#A1A431" stroke="#A1A431" stroke-width="0.6"/>
<path d="M159.44 177.77L162.41 183.98L156.47 183.98Z" fill="#A1A431" stroke="#A1A431" stroke-width="0.6"/>
<path d="M198.48 153.08L201.45 159.29L195.51 159.29Z" fill="#A1A431" stroke="#A1A431" stroke-width="0.6"/>
<path d="M276.57 111.64L279.54 117.85L273.60 117.85Z" fill="#A1A431" stroke="#A1A431" stroke-width="0.6"/>
<path d="M354.66 86.09L357.63 92.30L351.69 92.30Z" fill="#A1A431" stroke="#A1A431" stroke-width="0.6"/>
<path d="M42.30 221.00 C48.81 211.12 55.22 201.18 61.82 191.37 C68.23 181.86 74.00 171.84 81.34 163.03 C93.57 148.38 106.26 133.99 120.39 121.16 C132.39 110.27 145.79 100.92 159.44 92.18 C171.88 84.21 184.82 76.80 198.48 71.14 C223.97 60.58 250.01 51.14 276.57 43.66 C302.18 36.44 328.63 32.64 354.66 27.13" stroke="#A8A4A5" stroke-width="1.7" fill="none" stroke-dasharray="5.6 5"/>
<circle cx="42.30" cy="221.00" r="2.70" fill="#A8A4A5" stroke="#A8A4A5" stroke-width="0.8"/>
<circle cx="61.82" cy="191.37" r="2.70" fill="#A8A4A5" stroke="#A8A4A5" stroke-width="0.8"/>
<circle cx="81.34" cy="163.03" r="2.70" fill="#A8A4A5" stroke="#A8A4A5" stroke-width="0.8"/>
<circle cx="120.39" cy="121.16" r="2.70" fill="#A8A4A5" stroke="#A8A4A5" stroke-width="0.8"/>
<circle cx="159.44" cy="92.18" r="2.70" fill="#A8A4A5" stroke="#A8A4A5" stroke-width="0.8"/>
<circle cx="198.48" cy="71.14" r="2.70" fill="#A8A4A5" stroke="#A8A4A5" stroke-width="0.8"/>
<circle cx="276.57" cy="43.66" r="2.70" fill="#A8A4A5" stroke="#A8A4A5" stroke-width="0.8"/>
<circle cx="354.66" cy="27.13" r="2.70" fill="#A8A4A5" stroke="#A8A4A5" stroke-width="0.8"/>
<path d="M42.30 221.00 C48.81 215.78 55.14 210.32 61.82 205.33 C68.16 200.59 74.87 196.36 81.34 191.80 C94.39 182.62 107.86 173.99 120.39 164.10 C133.92 153.42 145.86 140.82 159.44 130.18 C171.93 120.39 184.69 110.78 198.48 102.92 C223.82 88.47 249.49 74.24 276.57 63.41 C301.76 53.33 328.63 48.09 354.66 40.44" stroke="#C0E000" stroke-width="1.7" fill="none" stroke-dasharray="5.6 5"/>
<path d="M42.30 217.90L43.12 219.87L45.25 220.04L43.63 221.43L44.13 223.51L42.30 222.40L40.47 223.51L40.97 221.43L39.35 220.04L41.48 219.87Z" fill="#C0E000" stroke="#C0E000" stroke-width="0.5"/>
<path d="M61.82 202.22L62.64 204.20L64.78 204.37L63.15 205.76L63.65 207.84L61.82 206.72L60.00 207.84L60.49 205.76L58.87 204.37L61.00 204.20Z" fill="#C0E000" stroke="#C0E000" stroke-width="0.5"/>
<path d="M81.34 188.70L82.17 190.67L84.30 190.84L82.67 192.23L83.17 194.31L81.34 193.20L79.52 194.31L80.02 192.23L78.39 190.84L80.52 190.67Z" fill="#C0E000" stroke="#C0E000" stroke-width="0.5"/>
<path d="M120.39 161.00L121.21 162.97L123.34 163.15L121.72 164.54L122.22 166.62L120.39 165.50L118.56 166.62L119.06 164.54L117.44 163.15L119.57 162.97Z" fill="#C0E000" stroke="#C0E000" stroke-width="0.5"/>
<path d="M159.44 127.08L160.26 129.05L162.39 129.22L160.76 130.61L161.26 132.69L159.44 131.58L157.61 132.69L158.11 130.61L156.48 129.22L158.61 129.05Z" fill="#C0E000" stroke="#C0E000" stroke-width="0.5"/>
<path d="M198.48 99.81L199.30 101.78L201.43 101.96L199.81 103.35L200.31 105.43L198.48 104.31L196.65 105.43L197.15 103.35L195.53 101.96L197.66 101.78Z" fill="#C0E000" stroke="#C0E000" stroke-width="0.5"/>
<path d="M276.57 60.31L277.39 62.28L279.52 62.45L277.90 63.84L278.40 65.92L276.57 64.81L274.74 65.92L275.24 63.84L273.62 62.45L275.75 62.28Z" fill="#C0E000" stroke="#C0E000" stroke-width="0.5"/>
<path d="M354.66 37.33L355.48 39.31L357.61 39.48L355.99 40.87L356.49 42.95L354.66 41.83L352.83 42.95L353.33 40.87L351.71 39.48L353.84 39.31Z" fill="#C0E000" stroke="#C0E000" stroke-width="0.5"/>
<path d="M42.30 221.00 C48.81 201.75 54.00 182.00 61.82 163.25 C67.06 150.69 72.92 138.08 81.34 127.39 C92.65 113.05 105.96 100.15 120.39 88.96 C132.21 79.79 145.94 73.30 159.44 66.85 C172.04 60.82 185.15 55.78 198.48 51.60 C224.24 43.53 250.12 35.51 276.57 30.13 C302.30 24.90 328.63 23.26 354.66 19.83" stroke="#8685D5" stroke-width="1.7" fill="none"/>
<circle cx="42.30" cy="221.00" r="2.70" fill="#8685D5" stroke="#8685D5" stroke-width="0.8"/>
<circle cx="61.82" cy="163.25" r="2.70" fill="#8685D5" stroke="#8685D5" stroke-width="0.8"/>
<circle cx="81.34" cy="127.39" r="2.70" fill="#8685D5" stroke="#8685D5" stroke-width="0.8"/>
<circle cx="120.39" cy="88.96" r="2.70" fill="#8685D5" stroke="#8685D5" stroke-width="0.8"/>
<circle cx="159.44" cy="66.85" r="2.70" fill="#8685D5" stroke="#8685D5" stroke-width="0.8"/>
<circle cx="198.48" cy="51.60" r="2.70" fill="#8685D5" stroke="#8685D5" stroke-width="0.8"/>
<circle cx="276.57" cy="30.13" r="2.70" fill="#8685D5" stroke="#8685D5" stroke-width="0.8"/>
<circle cx="354.66" cy="19.83" r="2.70" fill="#8685D5" stroke="#8685D5" stroke-width="0.8"/>
<path d="M42.30 221.00 C48.81 213.27 55.17 205.42 61.82 197.81 C68.19 190.53 74.56 183.23 81.34 176.34 C94.09 163.40 106.79 150.38 120.39 138.34 C132.85 127.31 146.03 117.08 159.44 107.21 C172.08 97.89 184.43 87.83 198.48 80.80 C223.66 68.20 249.80 57.32 276.57 48.60 C302.02 40.30 328.63 36.14 354.66 29.92" stroke="#8B9F47" stroke-width="1.7" fill="none"/>
<path d="M42.30 217.27L45.27 223.48L39.33 223.48Z" fill="#8B9F47" stroke="#8B9F47" stroke-width="0.6"/>
<path d="M61.82 194.09L64.79 200.30L58.85 200.30Z" fill="#8B9F47" stroke="#8B9F47" stroke-width="0.6"/>
<path d="M81.34 172.62L84.31 178.83L78.38 178.83Z" fill="#8B9F47" stroke="#8B9F47" stroke-width="0.6"/>
<path d="M120.39 134.61L123.36 140.82L117.42 140.82Z" fill="#8B9F47" stroke="#8B9F47" stroke-width="0.6"/>
<path d="M159.44 103.48L162.41 109.69L156.47 109.69Z" fill="#8B9F47" stroke="#8B9F47" stroke-width="0.6"/>
<path d="M198.48 77.07L201.45 83.28L195.51 83.28Z" fill="#8B9F47" stroke="#8B9F47" stroke-width="0.6"/>
<path d="M276.57 44.87L279.54 51.08L273.60 51.08Z" fill="#8B9F47" stroke="#8B9F47" stroke-width="0.6"/>
<path d="M354.66 26.19L357.63 32.40L351.69 32.40Z" fill="#8B9F47" stroke="#8B9F47" stroke-width="0.6"/>
<path d="M42.30 221.00 C48.81 219.43 55.39 218.15 61.82 216.28 C68.42 214.35 75.10 212.50 81.34 209.62 C94.68 203.46 107.67 196.57 120.39 189.22 C133.73 181.52 146.88 173.44 159.44 164.53 C172.94 154.95 184.65 142.93 198.48 133.83 C223.77 117.19 249.25 100.49 276.57 87.46 C301.54 75.54 328.63 68.71 354.66 59.33" stroke="#3E3878" stroke-width="1.7" fill="none" stroke-dasharray="5.6 5"/>
<path d="M42.30 217.90L43.12 219.87L45.25 220.04L43.63 221.43L44.13 223.51L42.30 222.40L40.47 223.51L40.97 221.43L39.35 220.04L41.48 219.87Z" fill="#3E3878" stroke="#3E3878" stroke-width="0.5"/>
<path d="M61.82 213.17L62.64 215.15L64.78 215.32L63.15 216.71L63.65 218.79L61.82 217.67L60.00 218.79L60.49 216.71L58.87 215.32L61.00 215.15Z" fill="#3E3878" stroke="#3E3878" stroke-width="0.5"/>
<path d="M81.34 206.52L82.17 208.49L84.30 208.66L82.67 210.05L83.17 212.13L81.34 211.02L79.52 212.13L80.02 210.05L78.39 208.66L80.52 208.49Z" fill="#3E3878" stroke="#3E3878" stroke-width="0.5"/>
<path d="M120.39 186.12L121.21 188.09L123.34 188.26L121.72 189.66L122.22 191.74L120.39 190.62L118.56 191.74L119.06 189.66L117.44 188.26L119.57 188.09Z" fill="#3E3878" stroke="#3E3878" stroke-width="0.5"/>
<path d="M159.44 161.43L160.26 163.40L162.39 163.57L160.76 164.97L161.26 167.05L159.44 165.93L157.61 167.05L158.11 164.97L156.48 163.57L158.61 163.40Z" fill="#3E3878" stroke="#3E3878" stroke-width="0.5"/>
<path d="M198.48 130.73L199.30 132.70L201.43 132.87L199.81 134.26L200.31 136.34L198.48 135.23L196.65 136.34L197.15 134.26L195.53 132.87L197.66 132.70Z" fill="#3E3878" stroke="#3E3878" stroke-width="0.5"/>
<path d="M276.57 84.35L277.39 86.33L279.52 86.50L277.90 87.89L278.40 89.97L276.57 88.85L274.74 89.97L275.24 87.89L273.62 86.50L275.75 86.33Z" fill="#3E3878" stroke="#3E3878" stroke-width="0.5"/>
<path d="M354.66 56.23L355.48 58.20L357.61 58.37L355.99 59.76L356.49 61.84L354.66 60.73L352.83 61.84L353.33 59.76L351.71 58.37L353.84 58.20Z" fill="#3E3878" stroke="#3E3878" stroke-width="0.5"/>
<path d="M42.30 221.00 C48.81 217.28 55.38 213.66 61.82 209.84 C68.39 205.93 75.05 202.15 81.34 197.81 C94.59 188.69 107.61 179.24 120.39 169.47 C133.65 159.34 146.12 148.19 159.44 138.13 C172.16 128.50 184.71 118.48 198.48 110.43 C223.83 95.61 249.57 81.18 276.57 69.64 C301.79 58.85 328.63 52.32 354.66 43.66" stroke="#64660E" stroke-width="1.7" fill="none" stroke-dasharray="5.6 5"/>
<circle cx="42.30" cy="221.00" r="2.70" fill="#64660E" stroke="#64660E" stroke-width="0.8"/>
<circle cx="61.82" cy="209.84" r="2.70" fill="#64660E" stroke="#64660E" stroke-width="0.8"/>
<circle cx="81.34" cy="197.81" r="2.70" fill="#64660E" stroke="#64660E" stroke-width="0.8"/>
<circle cx="120.39" cy="169.47" r="2.70" fill="#64660E" stroke="#64660E" stroke-width="0.8"/>
<circle cx="159.44" cy="138.13" r="2.70" fill="#64660E" stroke="#64660E" stroke-width="0.8"/>
<circle cx="198.48" cy="110.43" r="2.70" fill="#64660E" stroke="#64660E" stroke-width="0.8"/>
<circle cx="276.57" cy="69.64" r="2.70" fill="#64660E" stroke="#64660E" stroke-width="0.8"/>
<circle cx="354.66" cy="43.66" r="2.70" fill="#64660E" stroke="#64660E" stroke-width="0.8"/>
<path d="M42.30 221.00 C48.81 217.42 55.39 213.98 61.82 210.26 C68.41 206.46 75.05 202.73 81.34 198.46 C94.59 189.48 107.31 179.75 120.39 170.55 C133.34 161.43 146.47 152.58 159.44 143.49 C172.50 134.33 184.74 123.91 198.48 115.80 C223.86 100.82 249.47 85.94 276.57 74.36 C301.73 63.60 328.63 57.47 354.66 49.03" stroke="#666263" stroke-width="1.7" fill="none"/>
<path d="M42.30 217.27L45.27 223.48L39.33 223.48Z" fill="#666263" stroke="#666263" stroke-width="0.6"/>
<path d="M61.82 206.54L64.79 212.75L58.85 212.75Z" fill="#666263" stroke="#666263" stroke-width="0.6"/>
<path d="M81.34 194.73L84.31 200.94L78.38 200.94Z" fill="#666263" stroke="#666263" stroke-width="0.6"/>
<path d="M120.39 166.82L123.36 173.03L117.42 173.03Z" fill="#666263" stroke="#666263" stroke-width="0.6"/>
<path d="M159.44 139.77L162.41 145.98L156.47 145.98Z" fill="#666263" stroke="#666263" stroke-width="0.6"/>
<path d="M198.48 112.07L201.45 118.28L195.51 118.28Z" fill="#666263" stroke="#666263" stroke-width="0.6"/>
<path d="M276.57 70.63L279.54 76.84L273.60 76.84Z" fill="#666263" stroke="#666263" stroke-width="0.6"/>
<path d="M354.66 45.30L357.63 51.51L351.69 51.51Z" fill="#666263" stroke="#666263" stroke-width="0.6"/>
<path d="M42.30 221.00 C48.81 213.49 55.19 205.86 61.82 198.46 C68.21 191.33 74.61 184.21 81.34 177.42 C94.14 164.52 106.70 151.35 120.39 139.41 C132.77 128.62 145.99 118.78 159.44 109.36 C172.04 100.52 184.65 91.43 198.48 84.67 C223.82 72.26 249.74 60.74 276.57 52.03 C301.98 43.79 328.63 40.01 354.66 34.00" stroke="#7A8300" stroke-width="1.7" fill="none"/>
<circle cx="42.30" cy="221.00" r="2.70" fill="#7A8300" stroke="#7A8300" stroke-width="0.8"/>
<circle cx="61.82" cy="198.46" r="2.70" fill="#7A8300" stroke="#7A8300" stroke-width="0.8"/>
<circle cx="81.34" cy="177.42" r="2.70" fill="#7A8300" stroke="#7A8300" stroke-width="0.8"/>
<circle cx="120.39" cy="139.41" r="2.70" fill="#7A8300" stroke="#7A8300" stroke-width="0.8"/>
<circle cx="159.44" cy="109.36" r="2.70" fill="#7A8300" stroke="#7A8300" stroke-width="0.8"/>
<circle cx="198.48" cy="84.67" r="2.70" fill="#7A8300" stroke="#7A8300" stroke-width="0.8"/>
<circle cx="276.57" cy="52.03" r="2.70" fill="#7A8300" stroke="#7A8300" stroke-width="0.8"/>
<circle cx="354.66" cy="34.00" r="2.70" fill="#7A8300" stroke="#7A8300" stroke-width="0.8"/>
</g>
<path d="M391.9 44.70H421.3" stroke="#4472C4" stroke-width="1.7"/>
<circle cx="406.60" cy="44.70" r="2.70" fill="#4472C4" stroke="#4472C4" stroke-width="0.8"/>
<text x="424" y="48.10" font-size="11" textLength="74.4" lengthAdjust="spacingAndGlyphs">EC uncompacted</text>
<path d="M391.9 64.45H421.3" stroke="#ED7D31" stroke-width="1.7"/>
<path d="M406.60 60.72L409.57 66.93L403.63 66.93Z" fill="#ED7D31" stroke="#ED7D31" stroke-width="0.6"/>
<text x="424" y="67.85" font-size="11" textLength="109.5" lengthAdjust="spacingAndGlyphs">EC-1% SSF uncompacted</text>
<path d="M391.9 84.20H398.8M414.6 84.20H421.3" stroke="#A5A5A5" stroke-width="1.7"/>
<circle cx="406.60" cy="84.20" r="2.70" fill="#A5A5A5" stroke="#A5A5A5" stroke-width="0.8"/>
<text x="424" y="87.60" font-size="11" textLength="90.2" lengthAdjust="spacingAndGlyphs">Trilayer_EC_40 MPa</text>
<path d="M391.9 103.95H398.8M414.6 103.95H421.3" stroke="#FFC000" stroke-width="1.7"/>
<path d="M406.60 100.84L407.42 102.82L409.55 102.99L407.93 104.38L408.43 106.46L406.60 105.35L404.77 106.46L405.27 104.38L403.65 102.99L405.78 102.82Z" fill="#FFC000" stroke="#FFC000" stroke-width="0.5"/>
<text x="424" y="107.35" font-size="11" textLength="124.3" lengthAdjust="spacingAndGlyphs">Trilayer_EC-1% SSF_40 MPa</text>
<path d="M391.9 123.70H421.3" stroke="#5B9BD5" stroke-width="1.7"/>
<circle cx="406.60" cy="123.70" r="2.70" fill="#5B9BD5" stroke="#5B9BD5" stroke-width="0.8"/>
<text x="424" y="127.10" font-size="11" textLength="90.0" lengthAdjust="spacingAndGlyphs">Normal_EC_40 MPa</text>
<path d="M391.9 143.45H421.3" stroke="#8B9F47" stroke-width="1.7"/>
<path d="M406.60 139.72L409.57 145.93L403.63 145.93Z" fill="#8B9F47" stroke="#8B9F47" stroke-width="0.6"/>
<text x="424" y="146.85" font-size="11" textLength="124.3" lengthAdjust="spacingAndGlyphs">Normal_EC-1% SSF_40 MPa</text>
<path d="M391.9 163.20H398.8M414.6 163.20H421.3" stroke="#3E3878" stroke-width="1.7"/>
<path d="M406.60 160.09L407.42 162.07L409.55 162.24L407.93 163.63L408.43 165.71L406.60 164.60L404.77 165.71L405.27 163.63L403.65 162.24L405.78 162.07Z" fill="#3E3878" stroke="#3E3878" stroke-width="0.5"/>
<text x="424" y="166.60" font-size="11" textLength="124.0" lengthAdjust="spacingAndGlyphs">Trilayer_EC-1% SSF_20 MPa</text>
<path d="M391.9 182.95H398.8M414.6 182.95H421.3" stroke="#64660E" stroke-width="1.7"/>
<circle cx="406.60" cy="182.95" r="2.70" fill="#64660E" stroke="#64660E" stroke-width="0.8"/>
<text x="424" y="186.35" font-size="11" textLength="89.4" lengthAdjust="spacingAndGlyphs">Trilayer_EC_20 MPa</text>
<path d="M391.9 202.70H421.3" stroke="#666263" stroke-width="1.7"/>
<path d="M406.60 198.97L409.57 205.18L403.63 205.18Z" fill="#666263" stroke="#666263" stroke-width="0.6"/>
<text x="424" y="206.10" font-size="11" textLength="124.0" lengthAdjust="spacingAndGlyphs">Normal_EC-1% SSF_20 MPa</text>
<path d="M391.9 222.45H421.3" stroke="#7A8300" stroke-width="1.7"/>
<circle cx="406.60" cy="222.45" r="2.70" fill="#7A8300" stroke="#7A8300" stroke-width="0.8"/>
<text x="424" y="225.85" font-size="11" textLength="89.4" lengthAdjust="spacingAndGlyphs">Normal_EC_20 MPa</text>
</svg></div>
</body></html>
